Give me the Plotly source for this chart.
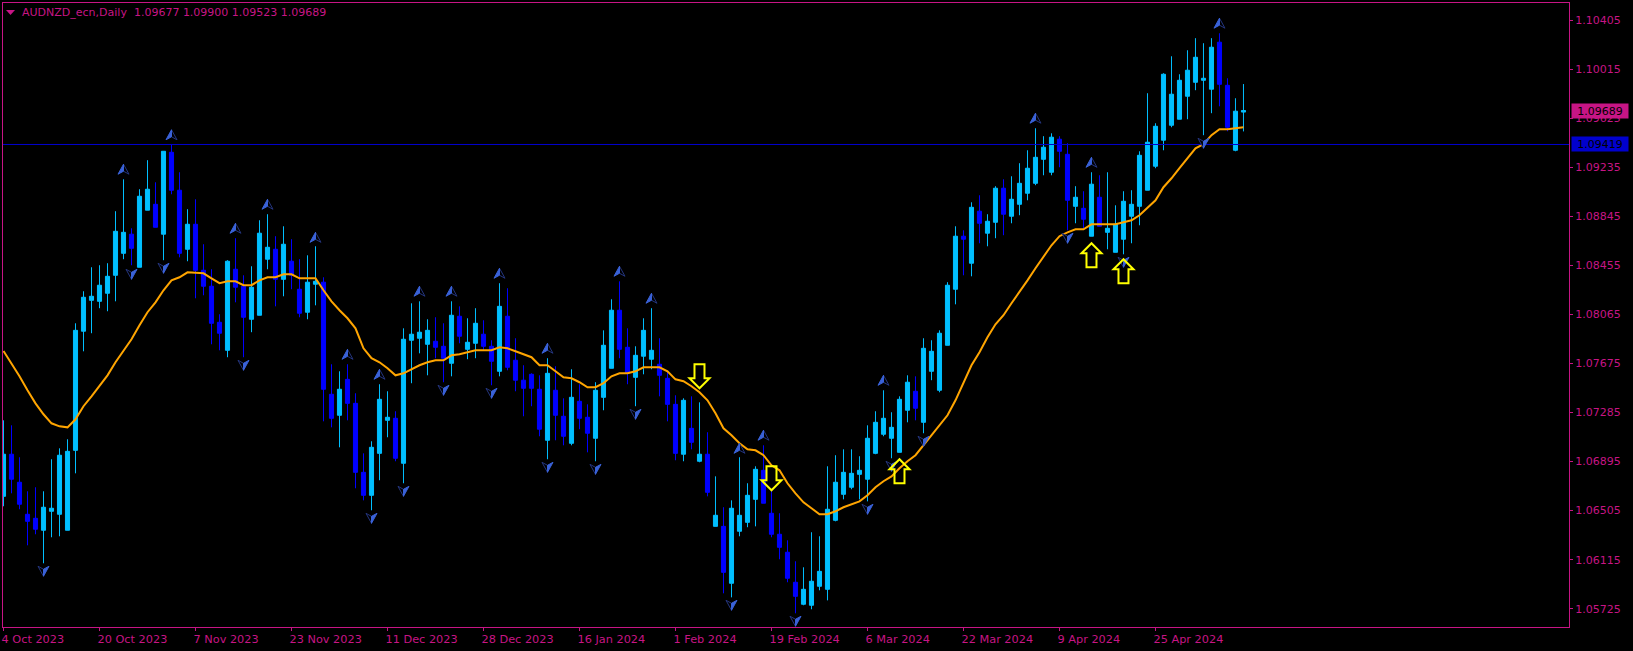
import plotly.graph_objects as go

# Daily AUDNZD candles
opens = [1.06619,1.06954,1.06731,1.06476,1.06444,1.06349,1.06500,1.06476,1.06349,1.06985,
1.07933,1.08179,1.08171,1.08235,1.08378,1.08553,1.08705,1.08442,1.08896,1.08943,
1.08705,1.09357,1.09055,1.08585,1.08784,1.08418,1.08291,1.08004,1.07781,1.08426,
1.08291,1.08028,1.08060,1.08506,1.08585,1.08346,1.08490,1.08267,1.08084,1.08307,
1.08323,1.07431,1.07264,1.07550,1.07359,1.06810,1.06627,1.06961,1.07224,1.07240,
1.06882,1.07861,1.07877,1.07829,1.07853,1.07813,1.07678,1.08052,1.07789,1.07837,
1.07909,1.07813,1.07614,1.08052,1.07702,1.07543,1.07590,1.07471,1.07065,1.07463,
1.07256,1.07041,1.07375,1.07248,1.07081,1.07407,1.07638,1.08100,1.07805,1.07566,
1.07734,1.07710,1.07670,1.07558,1.07351,1.06954,1.07160,1.06898,1.06954,1.06380,
1.06380,1.05927,1.06341,1.06412,1.06595,1.06826,1.06484,1.06317,1.06174,1.05935,
1.05760,1.05752,1.05903,1.05879,1.06428,1.06635,1.06691,1.06794,1.06755,1.06961,
1.07113,1.07081,1.06969,1.07304,1.07455,1.07208,1.07614,1.07463,1.07821,1.08267,
1.08689,1.08474,1.08888,1.08713,1.08800,1.09071,1.08848,1.08943,1.09031,1.09110,
1.09301,1.09198,1.09461,1.09341,1.08927,1.08911,1.08689,1.08999,1.08720,1.08561,
1.08665,1.08848,1.08927,1.09055,1.09246,1.09453,1.09572,1.09620,1.09803,1.09914,
1.09930,1.09859,1.10233,1.09890,1.09373,1.09677]

highs = [1.07224,1.07184,1.06930,1.06659,1.06691,1.06659,1.06914,1.07001,1.07073,1.07996,
1.08251,1.08442,1.08458,1.08474,1.08888,1.09142,1.08752,1.09063,1.09294,1.09118,
1.09365,1.09421,1.09198,1.08904,1.08983,1.08625,1.08426,1.08068,1.08498,1.08673,
1.08378,1.08450,1.08816,1.08864,1.08689,1.08768,1.08665,1.08506,1.08537,1.08609,
1.08362,1.07670,1.07614,1.07670,1.07439,1.06961,1.07057,1.07511,1.07455,1.07296,
1.07956,1.08155,1.08171,1.08028,1.08044,1.07996,1.08171,1.08131,1.08036,1.08116,
1.08020,1.07861,1.08315,1.08275,1.07877,1.07662,1.07598,1.07582,1.07718,1.07654,
1.07399,1.07630,1.07511,1.07351,1.07527,1.07940,1.08187,1.08330,1.07956,1.07813,
1.08036,1.08116,1.07877,1.07622,1.07423,1.07399,1.07415,1.07367,1.07129,1.06778,
1.06532,1.06587,1.06930,1.06723,1.06858,1.07025,1.06667,1.06484,1.06269,1.06102,
1.06054,1.06333,1.06301,1.06858,1.06946,1.06993,1.06993,1.06938,1.07184,1.07296,
1.07463,1.07288,1.07415,1.07582,1.07574,1.07877,1.07861,1.07940,1.08323,1.08768,
1.08736,1.08959,1.09015,1.08864,1.09087,1.09142,1.09166,1.09270,1.09373,1.09548,
1.09485,1.09508,1.09485,1.09429,1.09087,1.09047,1.09198,1.09174,1.09198,1.08935,
1.09047,1.09055,1.09365,1.09827,1.09588,1.09986,1.10121,1.09978,1.10169,1.10265,
1.10225,1.10265,1.10304,1.09946,1.09787,1.09900]

lows = [1.06540,1.06643,1.06516,1.06229,1.06317,1.06086,1.06293,1.06301,1.06349,1.06802,
1.07773,1.07917,1.08116,1.08092,1.08171,1.08506,1.08458,1.08442,1.08896,1.08760,
1.08498,1.09023,1.08521,1.08490,1.08195,1.08219,1.07829,1.07781,1.07726,1.08163,
1.07726,1.07925,1.08060,1.08426,1.08131,1.08211,1.08267,1.08044,1.08028,1.08139,
1.07216,1.07168,1.07009,1.07224,1.06683,1.06587,1.06508,1.06747,1.07089,1.06898,
1.06723,1.07519,1.07757,1.07582,1.07718,1.07527,1.07574,1.07837,1.07710,1.07718,
1.07781,1.07503,1.07574,1.07622,1.07455,1.07256,1.07336,1.07097,1.06914,1.07065,
1.07025,1.07025,1.07153,1.06969,1.06898,1.07304,1.07638,1.07718,1.07511,1.07336,
1.07590,1.07630,1.07415,1.07216,1.06906,1.06898,1.06993,1.06890,1.06619,1.06380,
1.05847,1.05815,1.06301,1.06373,1.06380,1.06564,1.06293,1.06118,1.05935,1.05688,
1.05752,1.05720,1.05871,1.05791,1.06420,1.06595,1.06675,1.06595,1.06579,1.06954,
1.07097,1.06922,1.06969,1.07208,1.07224,1.07121,1.07543,1.07447,1.07821,1.08147,
1.08378,1.08370,1.08633,1.08609,1.08673,1.08697,1.08792,1.08856,1.08975,1.09095,
1.09174,1.09174,1.09238,1.08736,1.08792,1.08752,1.08689,1.08768,1.08585,1.08561,
1.08545,1.08633,1.08776,1.09055,1.09230,1.09373,1.09556,1.09620,1.09620,1.09851,
1.09493,1.09668,1.09723,1.09524,1.09365,1.09523]

closes = [1.06954,1.06755,1.06556,1.06420,1.06357,1.06532,1.06524,1.06946,1.06977,1.07940,
1.08203,1.08211,1.08299,1.08370,1.08728,1.08720,1.08593,1.09007,1.09063,1.08760,
1.09365,1.09055,1.08553,1.08784,1.08418,1.08291,1.07996,1.07917,1.08490,1.08283,
1.08044,1.08283,1.08713,1.08601,1.08346,1.08625,1.08378,1.08076,1.08323,1.08330,
1.07471,1.07240,1.07471,1.07359,1.06810,1.06627,1.07009,1.07391,1.07248,1.06922,
1.07869,1.07909,1.07925,1.07940,1.07805,1.07718,1.08060,1.07893,1.07845,1.07996,
1.07813,1.07694,1.08131,1.07646,1.07543,1.07479,1.07479,1.07153,1.07598,1.07264,
1.07097,1.07407,1.07240,1.07121,1.07463,1.07821,1.08100,1.07789,1.07598,1.07741,
1.07940,1.07781,1.07582,1.07351,1.06961,1.07383,1.07049,1.06954,1.06651,1.06468,
1.06014,1.06524,1.06468,1.06627,1.06834,1.06564,1.06317,1.06213,1.05967,1.05823,
1.05879,1.05943,1.06022,1.06516,1.06731,1.06810,1.06802,1.06826,1.07081,1.07208,
1.07240,1.07168,1.07391,1.07527,1.07320,1.07797,1.07773,1.07917,1.08299,1.08689,
1.08665,1.08919,1.08792,1.08808,1.09071,1.08864,1.08983,1.09110,1.09230,1.09317,
1.09397,1.09477,1.09365,1.08975,1.08999,1.08824,1.09103,1.08768,1.08752,1.08784,
1.08967,1.08943,1.09333,1.09437,1.09564,1.09978,1.09819,1.09930,1.10010,1.10113,
1.09946,1.10193,1.09898,1.09556,1.09684,1.09689]

moving_average = [1.07776,1.07678,1.07574,1.07463,1.07359,1.07272,1.07200,1.07176,1.07168,1.07232,
1.07336,1.07415,1.07495,1.07582,1.07686,1.07781,1.07869,1.07980,1.08084,1.08163,
1.08259,1.08338,1.08362,1.08402,1.08398,1.08394,1.08354,1.08315,1.08330,1.08330,
1.08299,1.08299,1.08338,1.08362,1.08362,1.08386,1.08386,1.08354,1.08354,1.08354,
1.08259,1.08171,1.08100,1.08036,1.07956,1.07797,1.07718,1.07686,1.07638,1.07582,
1.07598,1.07630,1.07662,1.07686,1.07702,1.07702,1.07741,1.07749,1.07765,1.07781,
1.07781,1.07781,1.07805,1.07797,1.07773,1.07749,1.07726,1.07662,1.07662,1.07614,
1.07566,1.07558,1.07527,1.07487,1.07487,1.07519,1.07574,1.07598,1.07598,1.07614,
1.07646,1.07646,1.07646,1.07614,1.07550,1.07535,1.07495,1.07447,1.07383,1.07280,
1.07160,1.07105,1.07041,1.06993,1.06985,1.06946,1.06866,1.06826,1.06723,1.06643,
1.06571,1.06524,1.06476,1.06476,1.06500,1.06532,1.06556,1.06579,1.06627,1.06691,
1.06739,1.06778,1.06842,1.06898,1.06946,1.07025,1.07105,1.07176,1.07264,1.07383,
1.07527,1.07662,1.07765,1.07885,1.07988,1.08060,1.08155,1.08243,1.08338,1.08434,
1.08521,1.08617,1.08689,1.08720,1.08744,1.08744,1.08784,1.08784,1.08784,1.08784,
1.08800,1.08816,1.08856,1.08919,1.08975,1.09079,1.09150,1.09230,1.09309,1.09389,
1.09421,1.09493,1.09540,1.09540,1.09548,1.09556]

# Fractal markers: candle number and price of the arrow tip
fractal_up_bars = [15,21,29,33,39,43,47,52,56,62,68,77,81,92,95,110,129,136,152]
fractal_up_prices = [1.09262,1.09536,1.08792,1.08983,1.08720,1.07789,1.07630,1.08291,1.08291,1.08434,
                     1.07837,1.08450,1.08235,1.07041,1.07145,1.07582,1.09668,1.09317,1.10424]
fractal_down_bars = [5,16,20,30,46,50,55,61,68,74,79,91,99,108,111,115,133,140,150]
fractal_down_prices = [1.05983,1.08346,1.08394,1.07622,1.06404,1.06619,1.07423,1.07399,1.06810,1.06794,
                       1.07232,1.05712,1.05585,1.06476,1.06818,1.07017,1.08633,1.08442,1.09389]

# Yellow signal arrows
signal_down_bars = [87,96]
signal_down_prices = [1.07479,1.06667]
signal_up_bars = [112,136,140]
signal_up_prices = [1.06914,1.08633,1.08506]

price_ticks = [1.10405,1.10015,1.09625,1.09235,1.08845,1.08455,1.08065,1.07675,1.07285,1.06895,1.06505,1.06115,1.05725]
date_tick_bars = [0,12,24,36,48,60,72,84,96,108,120,132,144]
date_tick_labels = ["4 Oct 2023","20 Oct 2023","7 Nov 2023","23 Nov 2023","11 Dec 2023","28 Dec 2023",
                    "16 Jan 2024","1 Feb 2024","19 Feb 2024","6 Mar 2024","22 Mar 2024","9 Apr 2024","25 Apr 2024"]
title_text = "AUDNZD_ecn,Daily\u00a0\u00a01.09677 1.09900 1.09523 1.09689"
last_price = 1.09689
level_price = 1.09419

FRAME = "#C71585"
BULL = "#00BFFF"
BEAR = "#0000FF"
FONT = dict(family="DejaVu Sans", size=11, color=FRAME)
XFONT = dict(family="DejaVu Sans", size=11.3, color=FRAME)

bars = list(range(len(opens)))
fig = go.Figure()
fig.add_trace(go.Candlestick(
    x=bars, open=opens, high=highs, low=lows, close=closes, whiskerwidth=0,
    increasing=dict(line=dict(color=BULL, width=1), fillcolor=BULL),
    decreasing=dict(line=dict(color=BEAR, width=1), fillcolor=BEAR),
    hoverinfo="skip", showlegend=False))
fig.add_trace(go.Scatter(x=bars, y=moving_average, mode="lines",
                         line=dict(color="#FFA500", width=2), hoverinfo="skip", showlegend=False))

shapes = [dict(type="line", xref="paper", yref="y", x0=0, x1=1, y0=level_price, y1=level_price,
               line=dict(color="#0000CD", width=1), layer="above")]

def glyph(bar, price, path, fill, line):
    return dict(type="path", xref="x", yref="y", xsizemode="pixel", ysizemode="pixel",
                xanchor=bar, yanchor=price, path=path, fillcolor=fill,
                line=dict(color=line, width=1), layer="above")

# pixel paths are relative to the tip; pixel y grows upward in shape paths
for b, p in zip(fractal_up_bars, fractal_up_prices):
    shapes.append(glyph(b, p, "M 0 0 L 5.5 -10 L 0 -7 Z", "#000000", "#24357F"))
    shapes.append(glyph(b, p, "M 0 0 L -5.5 -10 L 0 -7 Z", "#3A62D8", "#3A62D8"))
for b, p in zip(fractal_down_bars, fractal_down_prices):
    shapes.append(glyph(b, p, "M 0 0 L -5.5 10 L 0 7 Z", "#000000", "#24357F"))
    shapes.append(glyph(b, p, "M 0 0 L 5.5 10 L 0 7 Z", "#3A62D8", "#3A62D8"))

def signal(b, p, s):
    path = (f"M 0 0 L -10 {10*s} L -5 {10*s} L -5 {24*s} L 5 {24*s} "
            f"L 5 {10*s} L 10 {10*s} Z")
    d = glyph(b, p, path, "rgba(0,0,0,0)", "#FFFF00")
    d["line"]["width"] = 2
    return d

for b, p in zip(signal_down_bars, signal_down_prices):
    shapes.append(signal(b, p, 1))
for b, p in zip(signal_up_bars, signal_up_prices):
    shapes.append(signal(b, p, -1))

# small marker in the title row
shapes.append(dict(type="path", xref="paper", yref="paper", xsizemode="pixel", ysizemode="pixel",
                   xanchor=0, yanchor=1, path="M 3 -7 L 12 -7 L 7.5 -12 Z",
                   fillcolor=FRAME, line=dict(color=FRAME, width=0), layer="above"))

annotations = [
    dict(text=title_text, xref="paper", yref="paper", x=0, y=1, xanchor="left", yanchor="middle",
         xshift=17.5, yshift=-9.5, showarrow=False, font=FONT, borderpad=0),
    dict(text="1.09689", xref="paper", yref="y", x=1, y=last_price, xanchor="left", yanchor="middle",
         xshift=2, showarrow=False, width=56, height=14, bgcolor=FRAME, align="center",
         font=dict(family="DejaVu Sans", size=11, color="#000000"), borderpad=0),
    dict(text="1.09419", xref="paper", yref="y", x=1, y=level_price, xanchor="left", yanchor="middle",
         xshift=2, showarrow=False, width=56, height=14, bgcolor="#0000CD", align="center",
         font=dict(family="DejaVu Sans", size=11, color="#000000"), borderpad=0),
]

fig.update_layout(
    width=1633, height=651, autosize=False,
    paper_bgcolor="#000000", plot_bgcolor="#000000",
    margin=dict(l=3, r=64, t=3, b=24, pad=0, autoexpand=False),
    showlegend=False, font=FONT,
    boxgap=0.27, boxgroupgap=0.3,
    shapes=shapes, annotations=annotations,
    xaxis=dict(range=[-0.0625, 195.69], rangeslider=dict(visible=False), tickmode="array",
               tickvals=date_tick_bars, ticktext=date_tick_labels, ticks="outside", ticklen=3,
               tickcolor=FRAME, tickwidth=1, showgrid=False, zeroline=False, showline=True,
               linecolor=FRAME, linewidth=1, mirror=True, ticklabelposition="outside right",
               ticklabelshift=-3, ticklabelstandoff=1, tickfont=XFONT, fixedrange=True,
               automargin=False),
    yaxis=dict(range=[1.05579, 1.10545], side="right", tickmode="array", tickvals=price_ticks,
               ticktext=[f"{v:.5f}" for v in price_ticks], ticks="outside", ticklen=3,
               tickcolor=FRAME, tickwidth=1, showgrid=False, zeroline=False, showline=True,
               linecolor=FRAME, linewidth=1, mirror=True, tickfont=FONT, fixedrange=True,
               automargin=False),
)

fig.write_html("out.html", config=dict(displayModeBar=False),
               post_script="document.body.style.margin='0';document.body.style.background='#000';")
